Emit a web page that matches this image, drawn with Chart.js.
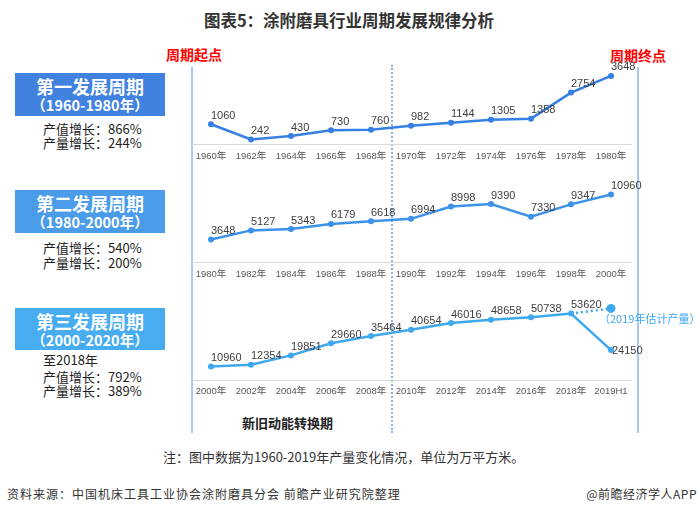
<!DOCTYPE html>
<html>
<head>
<meta charset="utf-8">
<script src="https://cdn.jsdelivr.net/npm/chart.js@4.4.1/dist/chart.umd.min.js"></script>
<style>
body { margin: 0; width: 700px; height: 515px; background: #fff; position: relative; overflow: hidden;
       font-family: "Noto Sans CJK SC", sans-serif; color: #333; }
.abs { position: absolute; white-space: nowrap; }
canvas { position: absolute; left: 0; }
.box { position: absolute; left: 15px; width: 150px; color: #fff; text-align: center; font-weight: bold; }
.box .t { font-size: 18px; line-height: 20px; margin-top: 3px; }
.box .s { font-size: 14.5px; line-height: 18px; }
.stat { position: absolute; left: 43px; font-size: 13px; line-height: 14px; color: #222; white-space: nowrap; }
.red { color: #ff0000; font-weight: bold; font-size: 14px; line-height: 16px; }
.vline { position: absolute; width: 0; border-left: 2px solid #a9c8f2; }
</style>
</head>
<body>
<div class="abs" style="left:0;width:698px;top:10px;text-align:center;font-size:16.5px;font-weight:bold;line-height:20px;color:#333">图表5：涂附磨具行业周期发展规律分析</div>

<div class="abs red" style="left:166px;top:46px">周期起点</div>
<div class="abs red" style="left:610px;top:47px">周期终点</div>

<div class="vline" style="left:191px;top:67px;height:366px"></div>
<div class="vline" style="left:637px;top:67px;height:366px"></div>
<div class="vline" style="left:391px;top:65px;height:368px;border-left:2px dotted #86b2ee"></div>

<div class="box" style="top:73px;height:43px;background:#4182e0"><div class="t">第一发展周期</div><div class="s">（1960-1980年）</div></div>
<div class="stat" style="top:122px">产值增长：866%</div>
<div class="stat" style="top:136px">产量增长：244%</div>

<div class="box" style="top:190px;height:43px;background:#4a9be8"><div class="t">第二发展周期</div><div class="s">（1980-2000年）</div></div>
<div class="stat" style="top:241px">产值增长：540%</div>
<div class="stat" style="top:256px">产量增长：200%</div>

<div class="box" style="top:308px;height:42px;background:#47adf0"><div class="t">第三发展周期</div><div class="s">（2000-2020年）</div></div>
<div class="stat" style="top:353px">至2018年</div>
<div class="stat" style="top:370px">产值增长：792%</div>
<div class="stat" style="top:384px">产量增长：389%</div>

<canvas id="c1" width="700" height="130" style="top:40px"></canvas>
<canvas id="c2" width="700" height="120" style="top:170px"></canvas>
<canvas id="c3" width="700" height="120" style="top:290px"></canvas>

<div class="abs" style="left:242px;top:414px;font-size:13px;font-weight:bold;line-height:18px;color:#222">新旧动能转换期</div>
<div class="abs" style="left:163px;top:448px;font-size:13px;line-height:18px;color:#333">注：图中数据为1960-2019年产量变化情况，单位为万平方米。</div>
<div class="abs" style="left:7px;top:485px;font-size:12px;letter-spacing:1px;line-height:18px;color:#333">资料来源：中国机床工具工业协会涂附磨具分会 前瞻产业研究院整理</div>
<div class="abs" style="right:3px;top:485px;font-size:12px;letter-spacing:0.5px;line-height:18px;color:#333">@前瞻经济学人APP</div>

<script>
// 产量（万平方米）
const years1 = ['1960年', '1962年', '1964年', '1966年', '1968年', '1970年', '1972年', '1974年', '1976年', '1978年', '1980年'];
const output1 = [1060, 242, 430, 730, 760, 982, 1144, 1305, 1358, 2754, 3648];

const years2 = ['1980年', '1982年', '1984年', '1986年', '1988年', '1990年', '1992年', '1994年', '1996年', '1998年', '2000年'];
const output2 = [3648, 5127, 5343, 6179, 6618, 6994, 8998, 9390, 7330, 9347, 10960];

const years3 = ['2000年', '2002年', '2004年', '2006年', '2008年', '2010年', '2012年', '2014年', '2016年', '2018年', '2019H1'];
const output3 = [10960, 12354, 19851, 29660, 35464, 40654, 46016, 48658, 50738, 53620, 24150];
const estimate3 = [null, null, null, null, null, null, null, null, null, 53620, 57800];
const estimateNote = '（2019年估计产量）';

const FONT = '"Liberation Sans", "Noto Sans CJK SC", sans-serif';

const valueLabels = {
    id: 'valueLabels',
    afterDatasetsDraw(chart, args, opts) {
        const ctx = chart.ctx;
        ctx.save();
        chart.data.datasets.forEach((ds, i) => {
            const meta = chart.getDatasetMeta(i);
            meta.data.forEach((pt, j) => {
                const v = ds.data[j];
                if (v == null) return;
                if (ds.note && j === ds.data.length - 1) {
                    ctx.font = '11px "Noto Sans CJK SC", sans-serif';
                    ctx.fillStyle = ds.borderColor;
                    ctx.textAlign = 'left';
                    ctx.textBaseline = 'middle';
                    ctx.fillText(ds.note, pt.x - 12, pt.y + 10);
                }
                if (ds.noLabels) return;
                ctx.font = '11px ' + FONT;
                ctx.fillStyle = '#404040';
                ctx.textAlign = 'left';
                if (opts.rightIndex === j) {
                    ctx.textBaseline = 'middle';
                    ctx.fillText(String(v), pt.x + 1, pt.y + 1);
                } else {
                    ctx.textBaseline = 'bottom';
                    ctx.fillText(String(v), pt.x, pt.y - 3);
                }
            });
        });
        ctx.restore();
    }
};

function makeChart(id, labels, datasets, yMax, padTop, axisH, tickPad, extra) {
    return new Chart(document.getElementById(id), {
        type: 'line',
        data: { labels, datasets },
        options: {
            responsive: false,
            animation: false,
            layout: { padding: { left: 191, right: 69, top: padTop, bottom: 0 } },
            plugins: {
                legend: { display: false },
                tooltip: { enabled: false },
                valueLabels: extra || {}
            },
            scales: {
                x: {
                    offset: true,
                    grid: { display: false, drawTicks: false },
                    border: { display: true, color: '#d9d9d9', width: 1 },
                    ticks: { color: '#595959', font: { size: 9.5, family: FONT }, padding: tickPad, maxRotation: 0, autoSkip: false },
                    afterFit: s => { s.height = axisH; }
                },
                y: { display: false, min: 0, max: yMax }
            }
        },
        plugins: [valueLabels]
    });
}

function lineSet(data, color) {
    return {
        data,
        borderColor: color,
        backgroundColor: color,
        borderWidth: 2.5,
        pointRadius: 3,
        pointBackgroundColor: color,
        pointBorderWidth: 0,
        tension: 0
    };
}

makeChart('c1', years1, [lineSet(output1, '#3580e2')], 4500, 20, 26, 7);
makeChart('c2', years2, [lineSet(output2, '#3c91e8')], 12000, 18, 28, 7);

const est = lineSet(estimate3, '#3ea8ee');
est.borderDash = [2, 3];
est.pointRadius = estimate3.map((v, i) => i === estimate3.length - 1 ? 4.5 : 0);
est.noLabels = true;
est.note = estimateNote;
makeChart('c3', years3, [lineSet(output3, '#3ea8ee'), est], 65000, 9.5, 30, 6, { rightIndex: 10 });
</script>
</body>
</html>
